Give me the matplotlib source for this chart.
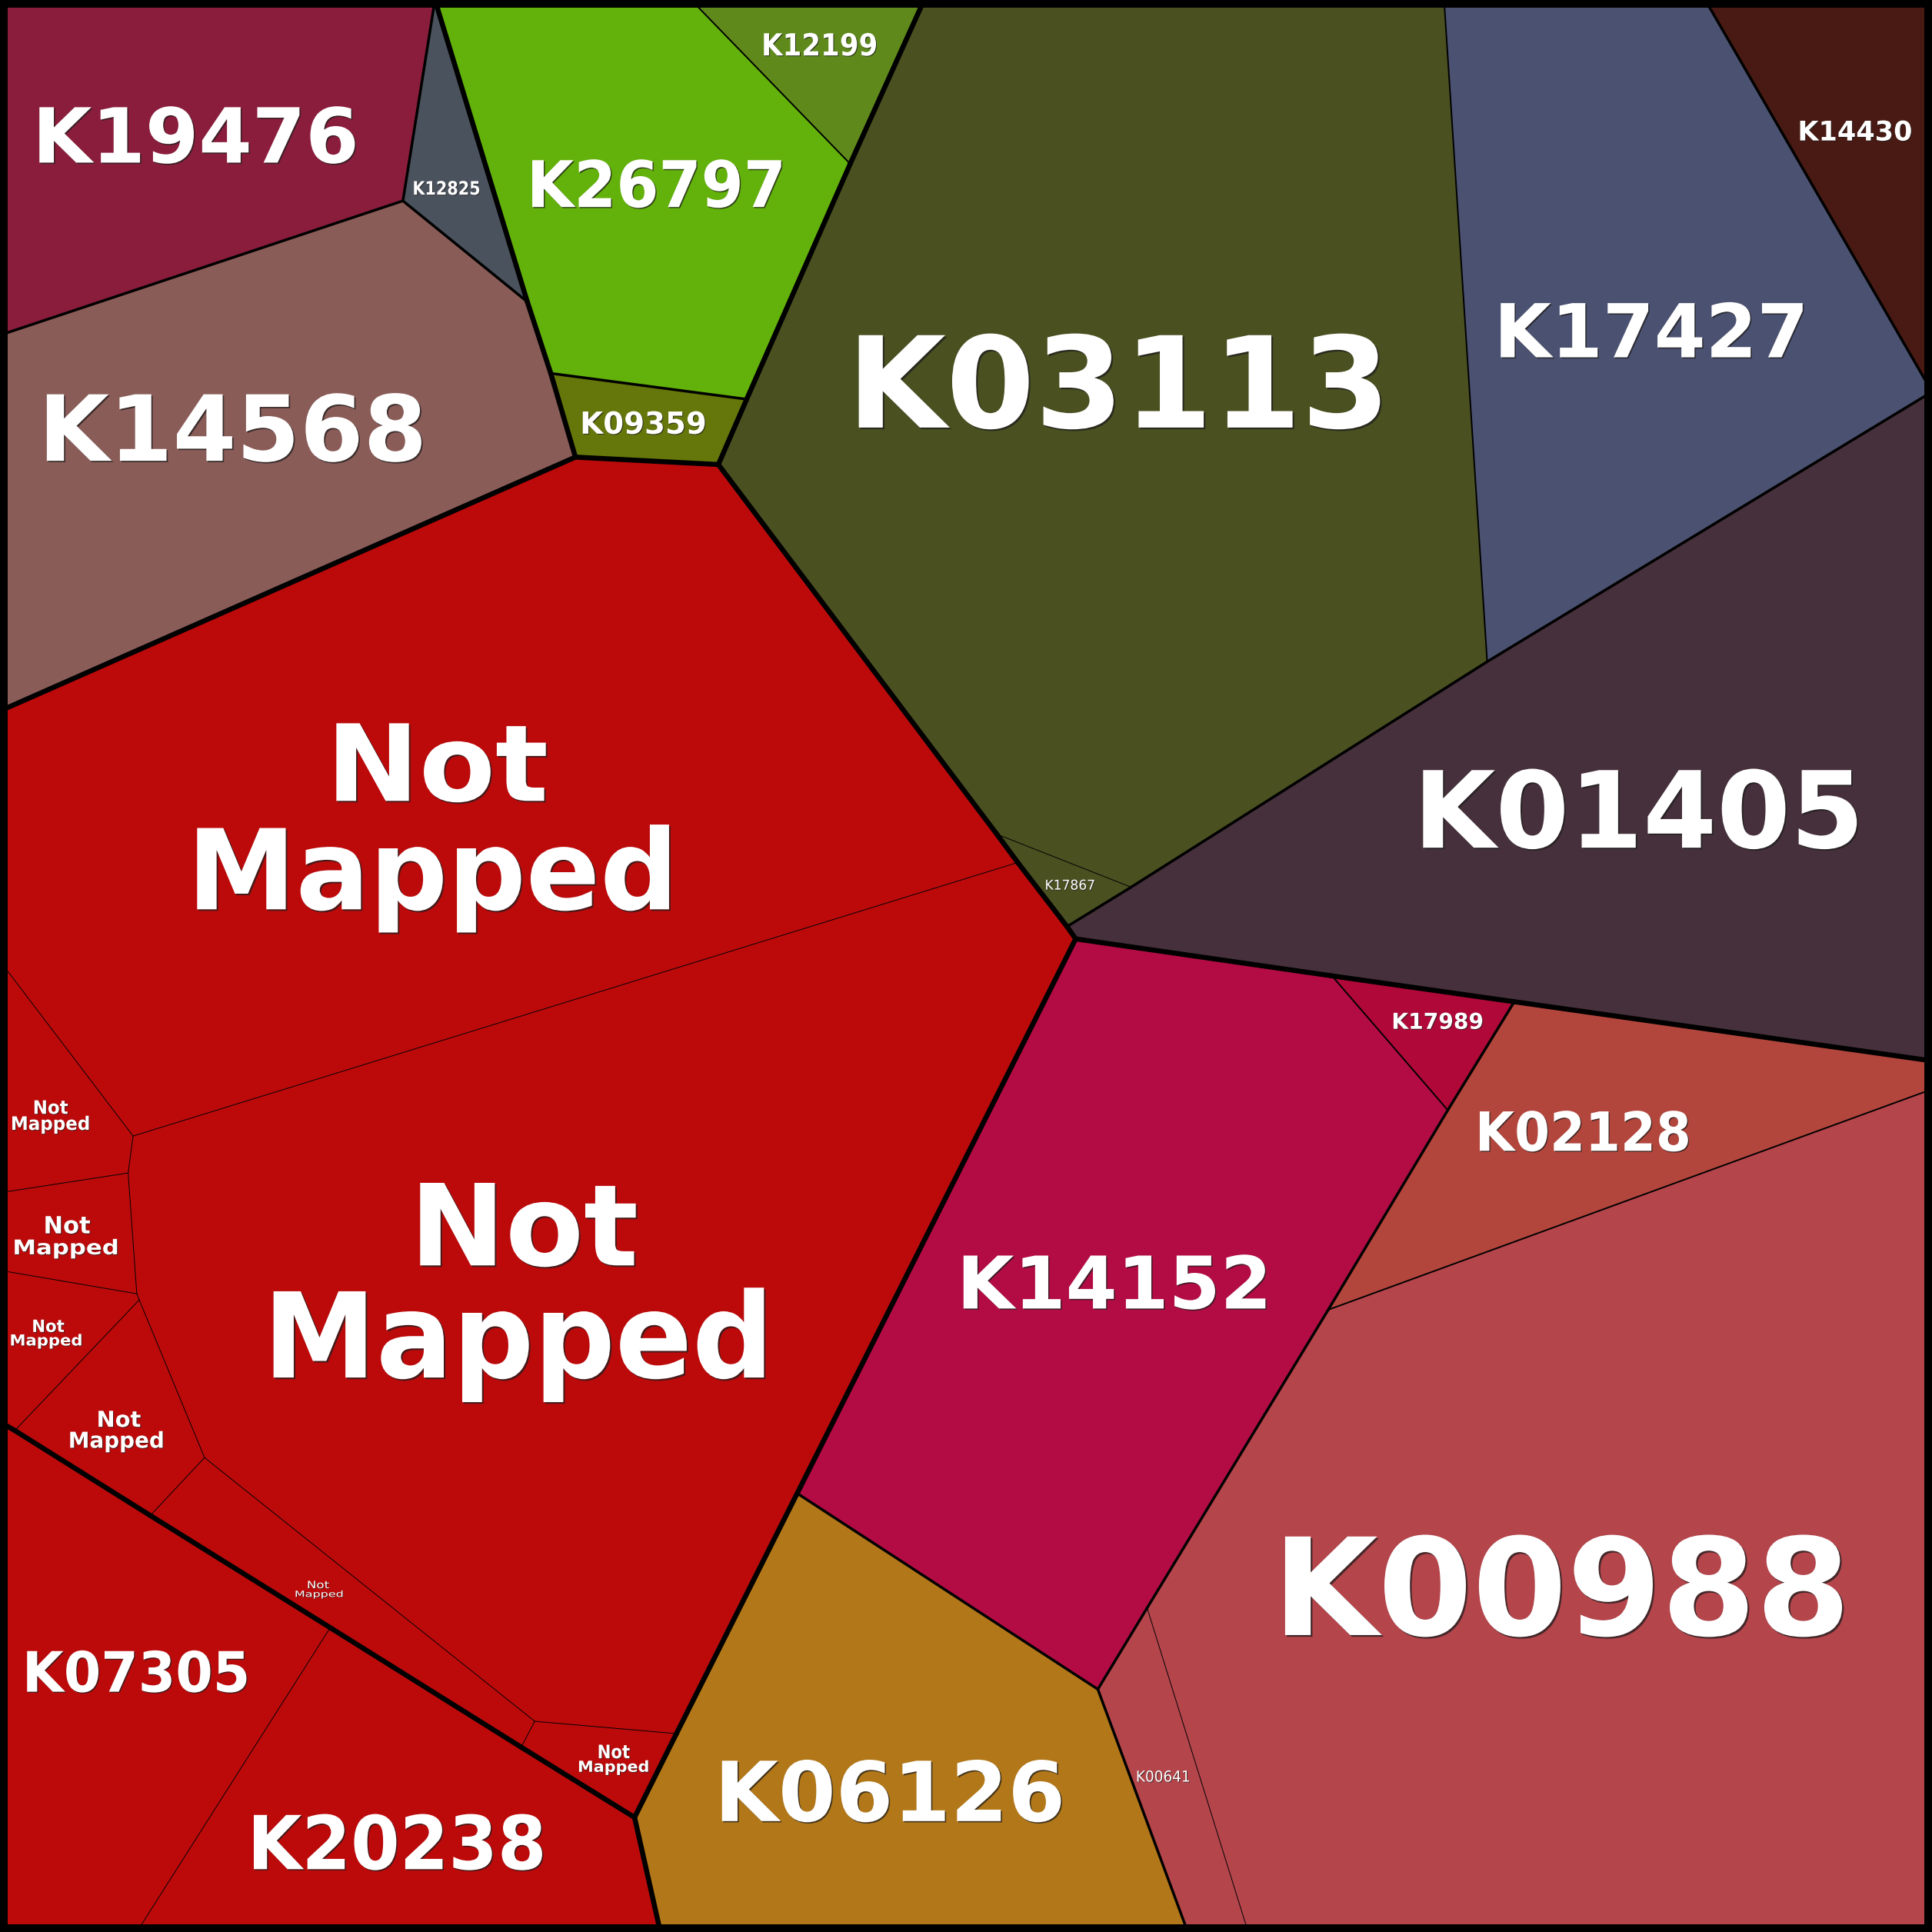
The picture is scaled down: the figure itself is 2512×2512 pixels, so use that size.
import matplotlib

matplotlib.use("Agg")

import matplotlib.pyplot as plt
from matplotlib.collections import LineCollection
from matplotlib.font_manager import FontProperties
from matplotlib.patches import PathPatch, Polygon, Rectangle
from matplotlib.textpath import TextPath
from matplotlib.transforms import Affine2D

SIZE = 1568

# corner points of the voronoi cells (canvas units, y grows downward)
VERTICES = {
    "A0": (0, 0), "A1": (353, 0), "A2": (561, 0), "A3": (750, 0),
    "A4": (1172, 0), "A5": (1384, 0), "A6": (1568, 0),
    "R1": (1568, 318), "R2": (1568, 861), "R3": (1568, 884), "A7": (1568, 1568),
    "B1": (1013, 1568), "B2": (964, 1568), "B3": (536, 1568), "B4": (111, 1568),
    "A8": (0, 1568),
    "L1": (0, 1154), "L2": (12, 1161), "L3": (0, 1031), "L4": (0, 968),
    "L5": (0, 780), "L6": (0, 577), "L7": (0, 272),
    "P1": (327, 163), "P2": (428, 245), "P3": (447, 303), "P4": (467, 371),
    "P5": (583, 377), "P6": (606, 324), "P7": (690, 133),
    "P8": (809, 677), "P9": (826, 700), "P10": (918, 720), "P11": (873, 762),
    "P12": (866, 752), "P13": (1207, 537),
    "P14": (1081, 792), "P15": (1229, 813), "P16": (1175, 901), "P17": (1078, 1063),
    "P18": (891, 1371), "P19": (931, 1305), "P20": (647, 1212), "P21": (515, 1475),
    "P22": (549, 1407), "P23": (268, 1321), "P24": (122, 1230), "P25": (423, 1418),
    "V1": (108, 922), "V2": (104, 952), "V3": (111, 1050), "V4": (113, 1055),
    "V5": (166, 1183), "V6": (434, 1397),
}

CELL_LABELS = [
    "K19476", "K12825", "K14568",
    "K26797", "K12199", "K09359",
    "K03113", "K17867", "K17427", "K14430", "K01405",
    "Not\nMapped", "Not\nMapped", "Not\nMapped", "Not\nMapped",
    "Not\nMapped", "Not\nMapped", "Not\nMapped", "Not\nMapped",
    "K07305", "K20238",
    "K14152", "K17989", "K02128", "K00988", "K00641", "K06126",
]

# hierarchy path of each cell: first differing level sets the border weight
CELL_GROUPS = [
    (1, 1), (1, 2), (1, 3),
    (2, 1, 1), (2, 1, 2), (2, 2),
    (3, 1, 1, 1), (3, 1, 1, 2), (3, 1, 2), (3, 2), (3, 3),
    (4, 1, 1, 1), (4, 1, 1, 2), (4, 1, 1, 3), (4, 1, 1, 4),
    (4, 1, 1, 5), (4, 1, 1, 6), (4, 1, 1, 7), (4, 1, 1, 8),
    (5, 1, 1, 1), (5, 1, 1, 2),
    (6, 1, 1), (6, 1, 2), (6, 2, 1), (6, 2, 2, 1), (6, 2, 2, 2), (6, 3),
]

CELL_COLORS = [
    "#8b1d3c", "#4a525d", "#8a5c58",
    "#63b10b", "#5f8a1b", "#65770a",
    "#4a5020", "#4a5020", "#4b5170", "#481a13", "#46303b",
    "#bc0a0b", "#bc0a0b", "#bc0a0b", "#bc0a0b",
    "#bc0a0b", "#bc0a0b", "#bc0a0b", "#bc0a0b",
    "#bc0a0b", "#bc0a0b",
    "#b30c44", "#b00839", "#b3463c", "#b3454b", "#b3454b", "#b27718",
]

CELL_OUTLINES = [
    ["A0", "A1", "P1", "L7"],
    ["A1", "P2", "P1"],
    ["L7", "P1", "P2", "P3", "P4", "L6"],
    ["A1", "A2", "P7", "P6", "P3", "P2"],
    ["A2", "A3", "P7"],
    ["P3", "P6", "P5", "P4"],
    ["A3", "A4", "P13", "P10", "P8", "P5", "P6", "P7"],
    ["P8", "P10", "P12", "P9"],
    ["A4", "A5", "R1", "P13"],
    ["A5", "A6", "R1"],
    ["R1", "R2", "P15", "P14", "P11", "P12", "P10", "P13"],
    ["L6", "P4", "P5", "P8", "P9", "V1", "L5"],
    ["V1", "P9", "P12", "P11", "P20", "P22", "V6", "V5", "V4", "V3", "V2"],
    ["L5", "V1", "V2", "L4"],
    ["L4", "V2", "V3", "L3"],
    ["L3", "V3", "V4", "L2", "L1"],
    ["V4", "V5", "P24", "L2"],
    ["V5", "V6", "P25", "P23", "P24"],
    ["V6", "P22", "P21", "P25"],
    ["L1", "L2", "P24", "P23", "B4", "A8"],
    ["P23", "P25", "P21", "B3", "B4"],
    ["P11", "P14", "P16", "P17", "P19", "P18", "P20"],
    ["P14", "P15", "P16"],
    ["P15", "R2", "R3", "P17", "P16"],
    ["P17", "R3", "A7", "B1", "P19"],
    ["P19", "B1", "B2", "P18"],
    ["P20", "P18", "B2", "B3", "P21", "P22"],
]

# label boxes per text line: x-left, x-right, cap top, baseline
LABEL_BOXES = [
    [(32, 288, 87, 132)], [(336, 389, 147, 158)], [(38, 342, 320, 374)],
    [(432, 634, 130, 168)], [(620, 711, 27, 45)], [(473, 572, 334, 352)],
    [(697, 1120, 272, 347)], [(849, 888, 714, 722)], [(1218, 1463, 246, 290)],
    [(1461, 1551, 98, 114)], [(1155, 1507, 625, 688)],
    [(273, 443, 587, 650), (160, 543, 672, 738)],
    [(341, 516, 960, 1027), (222, 620, 1048, 1118)],
    [(28, 55, 893, 904), (10, 72, 906, 917)],
    [(37, 73, 987, 1001), (12, 95, 1006, 1018)],
    [(27, 52, 1071, 1081), (9, 66, 1083, 1092)],
    [(80, 114, 1145, 1158), (57, 132, 1162, 1175)],
    [(250, 267, 1283, 1289), (240, 278, 1291, 1296)],
    [(486, 511, 1416, 1427), (470, 526, 1429, 1438)],
    [(22, 200, 1340, 1373)], [(206, 440, 1473, 1517)],
    [(782, 1027, 1019, 1062)], [(1131, 1203, 822, 835)], [(1201, 1370, 902, 934)],
    [(1043, 1495, 1247, 1327)], [(923, 965, 1437, 1446)], [(586, 861, 1429, 1478)],
]
LIGHT_LABELS = {"K17867", "K00641"}
LIGHT_CELLS = {17}

BORDER_WIDTHS = [4.7, 2.5, 1.4, 0.7]


def draw_label(ax, text, box, bold):
    prop = FontProperties(family="DejaVu Sans", weight="bold" if bold else "normal")
    path = TextPath((0, 0), text, size=100, prop=prop)
    cap = TextPath((0, 0), "K", size=100, prop=prop).get_extents().y1
    ext = path.get_extents()
    x0, x1, y0, y1 = box
    sx = (x1 - x0) / ext.width
    sy = (y1 - y0) / cap
    tr = Affine2D().translate(-ext.x0, 0).scale(sx, -sy).translate(x0, y1)
    shift = 0.45 + 0.012 * (y1 - y0)
    shadow = tr + Affine2D().translate(shift, shift)
    ax.add_patch(PathPatch(shadow.transform_path(path), facecolor="#1e1e1e",
                           alpha=0.75, linewidth=0, zorder=8))
    ax.add_patch(PathPatch(tr.transform_path(path), facecolor="white",
                           linewidth=0, zorder=9))


fig = plt.figure(figsize=(25.12, 25.12), dpi=100)
ax = fig.add_axes([0, 0, 1, 1])
ax.set_xlim(0, SIZE)
ax.set_ylim(SIZE, 0)
ax.axis("off")

for color, outline in zip(CELL_COLORS, CELL_OUTLINES):
    pts = [VERTICES[v] for v in outline]
    ax.add_patch(Polygon(pts, closed=True, facecolor=color, edgecolor=color,
                         linewidth=0.4, zorder=1))

edges = {}
for idx, outline in enumerate(CELL_OUTLINES):
    for a, b in zip(outline, outline[1:] + outline[:1]):
        edges.setdefault(frozenset((a, b)), []).append(idx)

segments = {}
for key, owners in edges.items():
    if len(owners) != 2:
        continue
    g1, g2 = CELL_GROUPS[owners[0]], CELL_GROUPS[owners[1]]
    level = next(i for i, (p, q) in enumerate(zip(g1, g2)) if p != q)
    a, b = tuple(key)
    segments.setdefault(level, []).append([VERTICES[a], VERTICES[b]])

for level in sorted(segments, reverse=True):
    ax.add_collection(LineCollection(segments[level], colors="black",
                                     linewidths=BORDER_WIDTHS[level],
                                     capstyle="round", zorder=5 - level))

ax.add_patch(Rectangle((0, 0), SIZE, SIZE, fill=False, edgecolor="black",
                       linewidth=14.4, zorder=7))

for idx, (label, boxes) in enumerate(zip(CELL_LABELS, LABEL_BOXES)):
    bold = label not in LIGHT_LABELS and idx not in LIGHT_CELLS
    for line, box in zip(label.split("\n"), boxes):
        draw_label(ax, line, box, bold)

fig.savefig("out.png", dpi=100)
plt.close(fig)
